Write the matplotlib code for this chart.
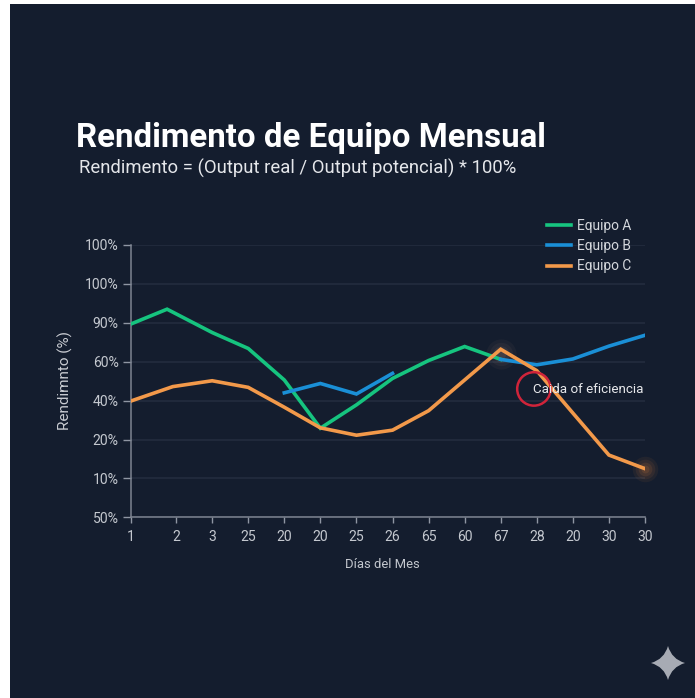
import numpy as np
import matplotlib
matplotlib.use("Agg")
import matplotlib.pyplot as plt
from matplotlib.patches import Rectangle, PathPatch
from matplotlib.path import Path

# Category-band data
x_tick_labels = ["1", "2", "3", "25", "20", "20", "25", "26", "65", "60", "67", "28", "20", "30", "30"]
x_tick_pos = [0, 1.25, 2.25, 3.25, 4.25, 5.25, 6.25, 7.25, 8.25, 9.25, 10.25, 11.25, 12.25, 13.25, 14.25]
y_tick_labels = ["50%", "10%", "20%", "40%", "60%", "90%", "100%", "100%"]
y_tick_pos = [0, 1, 2, 3, 4, 5, 6, 7]

days_a = [0, 1.0, 2.25, 3.25, 4.25, 5.25, 6.25, 7.25, 8.25, 9.25, 10.25]
equipo_a = [4.97, 5.35, 4.75, 4.34, 3.53, 2.29, 2.89, 3.57, 4.03, 4.39, 4.06]
days_b = [4.25, 5.25, 6.25, 7.25, None, 10.25, 11.25, 12.25, 13.25, 14.25]
equipo_b = [3.20, 3.44, 3.17, 3.70, None, 4.06, 3.92, 4.07, 4.40, 4.68]
days_c = [0, 1.16, 2.25, 3.25, 4.25, 5.25, 6.25, 7.25, 8.25, 9.25, 10.25, 11.25, 12.25, 13.25, 14.25]
equipo_c = [2.99, 3.36, 3.51, 3.34, 2.83, 2.30, 2.11, 2.24, 2.74, 3.53, 4.32, 3.77, 2.68, 1.60, 1.25]

BG = "#141d2e"
W, H = 695, 698
plt.rcParams["font.family"] = ["Roboto", "DejaVu Sans"]

fig = plt.figure(figsize=(W / 100, H / 100), dpi=100, facecolor="white")
fig.add_artist(Rectangle((10 / W, 0), (W - 10) / W, (H - 4) / H,
                         transform=fig.transFigure, facecolor=BG, edgecolor="none", zorder=-5))

ax = fig.add_axes([131 / W, 1 - 517.3 / H, (645 - 131) / W, (517.3 - 245) / H])
ax.set_facecolor("none")
ax.set_xlim(0, 14.25)
ax.set_ylim(0, 7)

def arr(v):
    return np.array([np.nan if a is None else a for a in v], dtype=float)

ax.set_yticks(y_tick_pos, y_tick_labels)
ax.set_xticks(x_tick_pos, x_tick_labels)
ax.grid(axis="y", color="#242d3f", lw=1.1)
ax.set_axisbelow(True)
ax.tick_params(colors="#8f96a3", labelcolor="#c4c8cf", labelsize=10.1, length=4, width=1, pad=5.5)
ax.tick_params(axis="y", pad=3, length=6)
for s in ("top", "right"):
    ax.spines[s].set_visible(False)
for s in ("left", "bottom"):
    ax.spines[s].set_color("#7d8491")
    ax.spines[s].set_linewidth(1.1)

# glows
for r, a in [(26, .05), (20, .06), (14, .08), (8, .10)]:
    ax.scatter([10.25], [4.2], s=r**2 * .7, color="#c9a68a", alpha=a, lw=0, zorder=2, clip_on=False)
    ax.scatter([14.25], [1.25], s=r**2 * .5, color="#f08a3c", alpha=a * 1.3, lw=0, zorder=2, clip_on=False)

ax.plot(days_a, equipo_a, color="#16c47f", lw=2.6, label="Equipo A", zorder=3, solid_joinstyle="miter")
ax.plot(arr(days_b), arr(equipo_b), color="#1a8fd6", lw=2.6, label="Equipo B", zorder=4, solid_joinstyle="miter")
ax.plot(days_c, equipo_c, color="#f2994a", lw=2.6, label="Equipo C", zorder=5, solid_joinstyle="miter")

ax.scatter([11.17], [3.30], s=580, facecolors="none", edgecolors="#d0243a", linewidths=1.8, zorder=6)
ax.text(11.14, 3.28, "Caida of eficiencia", color="#e8e9ec", fontsize=9.65, va="center", ha="left", zorder=7, clip_on=False)

handles, labels = ax.get_legend_handles_labels()
leg = fig.legend(handles, labels, loc="upper left", bbox_to_anchor=(547 / W, 1 - 219 / H),
                 frameon=False, fontsize=9.9, labelcolor="#d5d8dd", handlelength=1.75,
                 handletextpad=0.44, labelspacing=0.45, borderpad=0, borderaxespad=0)

fig.text(76 / W, 1 - 138.5 / H, "Rendimento de Equipo Mensual", color="white",
         fontsize=23.8, fontweight="bold", va="center", ha="left")
fig.text(79 / W, 1 - 168 / H, "Rendimento = (Output real / Output potencial) * 100%",
         color="#e4e6ea", fontsize=13.3, va="center", ha="left")
fig.text(65 / W, 1 - 380 / H, "Rendimnto (%)", color="#c9ccd2", fontsize=11,
         rotation=90, va="center", ha="center")
fig.text(382 / W, 1 - 565 / H, "Días del Mes", color="#c4c8cf", fontsize=9.4,
         va="center", ha="center")

# sparkle watermark
cx, cy, R = 668, 663, 17
pts = [(0, 1), (0.22, 0.22), (1, 0), (0.22, -0.22), (0, -1), (-0.22, -0.22), (-1, 0), (-0.22, 0.22), (0, 1)]
verts = [((cx + R * a) / W, 1 - (cy - R * b) / H) for a, b in pts]
codes = [Path.MOVETO] + [Path.CURVE3] * 8
fig.add_artist(PathPatch(Path(verts, codes), transform=fig.transFigure, facecolor="#a7abb4", edgecolor="none"))

fig.savefig("out.png", dpi=100, facecolor="white")
